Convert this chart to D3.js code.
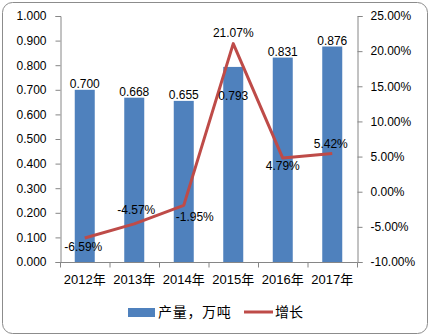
<!DOCTYPE html>
<html>
<head>
<meta charset="utf-8">
<script src="https://cdn.jsdelivr.net/npm/d3@7/dist/d3.min.js"></script>
<style>
  html, body { margin: 0; padding: 0; background: #fff; }
  svg text { font-family: "Liberation Sans", Arial, "Noto Sans CJK SC", sans-serif; fill: #000; }
</style>
</head>
<body>
<svg id="chart" width="430" height="336"></svg>
<script>
// Annual output (10k tonnes) and year-on-year growth (%)
const years = ["2012年", "2013年", "2014年", "2015年", "2016年", "2017年"];
const output = [0.700, 0.668, 0.655, 0.793, 0.831, 0.876];
const growth = [-6.59, -4.57, -1.95, 21.07, 4.79, 5.42];
const leftTicks = [0, 0.1, 0.2, 0.3, 0.4, 0.5, 0.6, 0.7, 0.8, 0.9, 1.0];
const rightTicks = [-10, -5, 0, 5, 10, 15, 20, 25];
const legendNames = ["产量，万吨", "增长"];

// label placement for each mark: offsets relative to the mark's anchor point
const barLabelDy = [-2, -2, -2, 33, -2, -2];
const lineLabelOffset = [[-1.5, 9], [2, -14], [11, 11], [0, -11], [0, 8], [-1.5, -10]];

const svg = d3.select("#chart");
const barColor = "#4F81BD", lineColor = "#BE4B48", axisColor = "#868686";

// outer frame
svg.append("rect")
  .attr("x", 2.5).attr("y", 2.5).attr("width", 425).attr("height", 331)
  .attr("rx", 10).attr("ry", 10)
  .attr("fill", "#fff").attr("stroke", "#8c8c8c").attr("stroke-width", 1);

const plot = { left: 60, right: 357, top: 16, bottom: 262 };

const x = d3.scaleBand().domain(years).range([plot.left, plot.right]).paddingInner(0).paddingOuter(0);
const yL = d3.scaleLinear().domain([0, 1]).range([plot.bottom, plot.top]);
const yR = d3.scaleLinear().domain([-10, 25]).range([plot.bottom, plot.top]);
const barW = 20;

// bars
svg.append("g").selectAll("rect").data(output).join("rect")
  .attr("x", (d, i) => x(years[i]) + x.bandwidth() / 2 - barW / 2)
  .attr("y", d => yL(d))
  .attr("width", barW)
  .attr("height", d => yL(0) - yL(d))
  .attr("fill", barColor);

// left axis
const gL = svg.append("g").attr("transform", `translate(${plot.left + 0.5},0)`)
  .call(d3.axisLeft(yL).tickValues(leftTicks).tickFormat(d3.format(".3f")).tickSize(5).tickPadding(5));
gL.selectAll("text").attr("font-size", 12).attr("dx", -4);

// right axis
const gR = svg.append("g").attr("transform", `translate(${plot.right + 0.5},0)`)
  .call(d3.axisRight(yR).tickValues(rightTicks).tickFormat(d => d.toFixed(2) + "%").tickSize(5).tickPadding(8));
gR.selectAll("text").attr("font-size", 12);

// bottom axis with ticks at category boundaries
const gB = svg.append("g").attr("transform", `translate(0,${plot.bottom + 0.5})`)
  .call(d3.axisBottom(x).tickSize(0).tickPadding(12));
gB.selectAll("text").attr("font-size", 13);
gB.selectAll(".boundary").data(d3.range(years.length + 1)).join("line")
  .attr("x1", i => plot.left + 0.5 + i * x.bandwidth())
  .attr("x2", i => plot.left + 0.5 + i * x.bandwidth())
  .attr("y1", 0).attr("y2", 5)
  .attr("stroke", axisColor);

[gL, gR, gB].forEach(g => {
  g.selectAll(".domain").attr("stroke", axisColor);
  g.selectAll(".tick line").attr("stroke", axisColor);
  g.selectAll("text").attr("fill", "#000");
});
gB.select(".domain").attr("d", `M${plot.left},0H${plot.right + 0.5}`);

// growth line
const cx = i => x(years[i]) + x.bandwidth() / 2;
svg.append("path")
  .datum(growth)
  .attr("d", d3.line().x((d, i) => cx(i)).y(d => yR(d)))
  .attr("fill", "none").attr("stroke", lineColor).attr("stroke-width", 3)
  .attr("stroke-linejoin", "round");

// bar value labels
svg.append("g").selectAll("text").data(output).join("text")
  .attr("x", (d, i) => cx(i))
  .attr("y", (d, i) => yL(d) + barLabelDy[i])
  .attr("text-anchor", "middle").attr("font-size", 12)
  .text(d => d.toFixed(3));

// growth value labels
svg.append("g").selectAll("text").data(growth).join("text")
  .attr("x", (d, i) => cx(i) + lineLabelOffset[i][0])
  .attr("y", (d, i) => yR(d) + lineLabelOffset[i][1])
  .attr("dy", "0.35em")
  .attr("text-anchor", "middle").attr("font-size", 12)
  .text(d => d.toFixed(2) + "%");

// legend
const lg = svg.append("g");
lg.append("rect").attr("x", 128).attr("y", 308).attr("width", 27).attr("height", 9).attr("fill", barColor);
lg.append("text").attr("x", 158).attr("y", 312.5).attr("dy", "0.35em").attr("font-size", 14)
  .attr("letter-spacing", 0.7).text(legendNames[0]);
lg.append("line").attr("x1", 244).attr("x2", 273).attr("y1", 312).attr("y2", 312)
  .attr("stroke", lineColor).attr("stroke-width", 3);
lg.append("text").attr("x", 275).attr("y", 312.5).attr("dy", "0.35em").attr("font-size", 14)
  .text(legendNames[1]);
</script>
</body>
</html>
